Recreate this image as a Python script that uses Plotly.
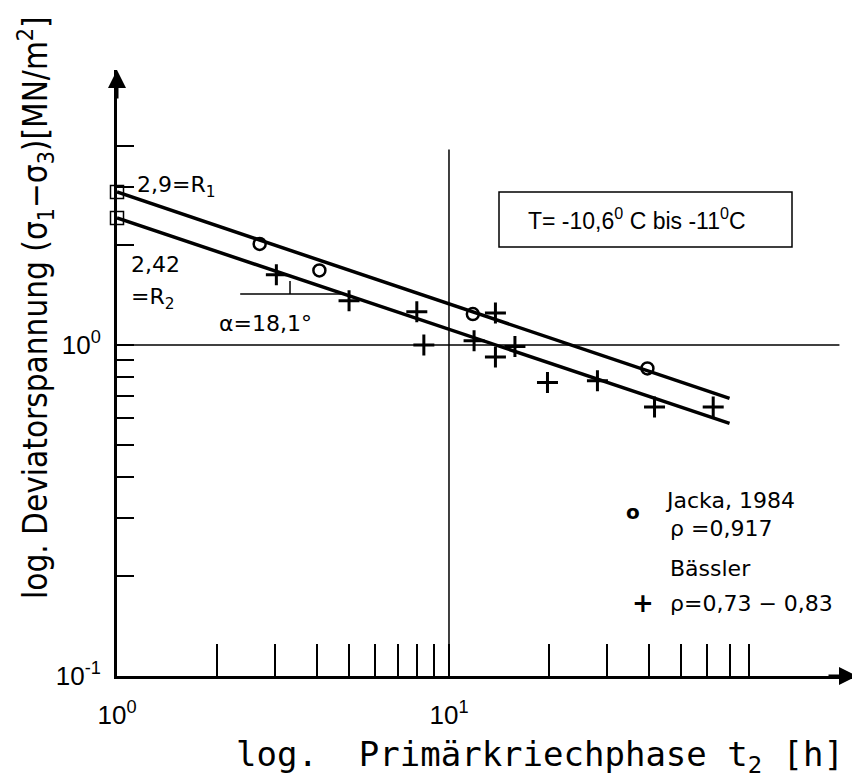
import plotly.graph_objects as go

# daten
jacka_t = [2.69, 4.07, 11.8, 39.6]
jacka_s = [2.02, 1.68, 1.24, 0.85]

baessler_t = [3.02, 5.0, 8.0, 8.4, 11.9, 13.8, 13.8, 15.8, 19.8, 28.0, 41.6, 62.5]
baessler_s = [1.63, 1.36, 1.26, 1.00, 1.03, 1.25, 0.92, 0.99, 0.77, 0.78, 0.65, 0.65]

r_t = [1, 1]
r_s = [2.9, 2.42]  # R1, R2

fit_t = [1, 70]
fit_r1 = [2.9, 0.69]
fit_r2 = [2.42, 0.58]

x_tickvals = [1, 10]
x_ticktext = ['10<sup>0</sup>', '10<sup>1</sup>']
x_minor = [2, 3, 4, 5, 6, 7, 8, 9, 20, 30, 40, 50, 60, 70, 80]
y_tickvals = [0.1, 1]
y_ticktext = ['10<sup>-1</sup>', '10<sup>0</sup>']
y_minor = [0.2, 0.3, 0.4, 0.5, 0.6, 0.7, 0.8, 0.9, 2, 3, 4]

# seite hat 8px body-rand -> figur etwas kleiner
OFF = 8
W, H = 860 - OFF, 783 - OFF
L, R, T, B = 117 - OFF, 3, 70 - OFF, 783 - 676
FONT = 'DejaVu Sans'


def px(x):  # bildschirm-pixel -> paper
    return (x - OFF - L) / (W - L - R)


def py(y):
    return (H - B - (y - OFF)) / (H - T - B)


fig = go.Figure()

# ausgleichsgeraden
for yy in (fit_r1, fit_r2):
    fig.add_trace(go.Scatter(x=fit_t, y=yy, mode='lines',
                             line=dict(color='black', width=3.5), showlegend=False))

fig.add_trace(go.Scatter(x=r_t, y=r_s, mode='markers', showlegend=False, cliponaxis=False,
                         marker=dict(symbol='square-open', size=13, color='black',
                                     line=dict(width=1.5))))
fig.add_trace(go.Scatter(x=jacka_t, y=jacka_s, mode='markers', showlegend=False,
                         marker=dict(symbol='circle-open', size=12, color='black',
                                     line=dict(width=2.5))))
fig.add_trace(go.Scatter(x=baessler_t, y=baessler_s, mode='markers', showlegend=False,
                         marker=dict(symbol='cross-thin', size=15, color='black',
                                     line=dict(width=3, color='black'))))

# hilfslinien bei 1 und 10
fig.add_shape(type='line', xref='x', yref='y', x0=1, x1=150, y0=1, y1=1,
              line=dict(color='black', width=1.5))
fig.add_shape(type='line', xref='x', yref='y', x0=10, x1=10, y0=0.1, y1=3.9,
              line=dict(color='black', width=1.5))
# winkel
fig.add_shape(type='line', xref='x', yref='y', x0=2.35, x1=4.8,
              y0=1.426, y1=1.426, line=dict(color='black', width=1.5))
fig.add_shape(type='line', xref='x', yref='y', x0=3.32, x1=3.32,
              y0=1.426, y1=1.56, line=dict(color='black', width=1.5))

# kasten temperatur
fig.add_shape(type='rect', xref='paper', yref='paper', x0=px(499), x1=px(792),
              y0=py(247), y1=py(192), line=dict(color='black', width=1.5))

ann = []


def txt(t, x, y, size=22, anchor='left', font=FONT, **kw):
    ann.append(dict(text=t, x=px(x), y=py(y), xref='paper', yref='paper',
                    showarrow=False, xanchor=anchor, yanchor='middle',
                    font=dict(family=font, size=size, color='black'), **kw))


txt('T= -10,6<sup>0</sup> C bis -11<sup>0</sup>C', 526, 219, size=23, font='Liberation Sans')
txt('2,9=R<sub>1</sub>', 135, 186)
txt('2,42', 129, 264)
txt('=R<sub>2</sub>', 129, 298)
txt('α=18,1°', 217, 323)
txt('Jacka, 1984', 663, 500)
txt('<b>o</b>', 633, 512, size=20, anchor='center')
txt('ρ =0,917', 668, 528)
txt('Bässler', 668, 568)
txt('<b>+</b>', 643, 603, size=26, anchor='center')
txt('ρ=0,73 − 0,83', 668, 603)
txt('log.  Primärkriechphase t<sub>2</sub> [h]', 540, 756, size=34, anchor='center',
    font='DejaVu Sans Mono')
txt('log. Deviatorspannung (σ<sub>1</sub>−σ<sub>3</sub>)[MN/m<sup>2</sup>]', 35, 308,
    size=33, anchor='center', textangle=-90, font='DejaVu Sans Condensed')

# pfeilspitzen
ann.append(dict(x=1, y=0, xref='paper', yref='paper', ax=-30, ay=0, showarrow=True,
                arrowhead=2, arrowsize=1.2, arrowwidth=3, arrowcolor='black', text=''))
ann.append(dict(x=0, y=1, xref='paper', yref='paper', ax=0, ay=30, showarrow=True,
                arrowhead=2, arrowsize=1.2, arrowwidth=3, arrowcolor='black', text=''))

fig.update_layout(
    width=W, height=H,
    margin=dict(l=L, r=R, t=T, b=B),
    paper_bgcolor='white', plot_bgcolor='white',
    annotations=ann,
    xaxis=dict(type='log', range=[0, 2.229], showgrid=False, zeroline=False,
               showline=True, linewidth=3, linecolor='black',
               tickvals=x_tickvals, ticktext=x_ticktext, ticks='inside',
               ticklen=32, tickwidth=1.5, tickcolor='black', ticklabelstandoff=14,
               minor=dict(tickvals=x_minor, ticks='inside', ticklen=32, tickwidth=1.5,
                          tickcolor='black', showgrid=False),
               tickfont=dict(family='Liberation Sans', size=26, color='black')),
    yaxis=dict(type='log', range=[-1, 0.831], showgrid=False, zeroline=False,
               showline=True, linewidth=3, linecolor='black',
               tickvals=y_tickvals, ticktext=y_ticktext, ticks='inside',
               ticklen=17, tickwidth=1.5, tickcolor='black', ticklabelstandoff=8,
               minor=dict(tickvals=y_minor, ticks='inside', ticklen=17, tickwidth=1.5,
                          tickcolor='black', showgrid=False),
               tickfont=dict(family='Liberation Sans', size=26, color='black')),
)

fig.write_html('out.html')
